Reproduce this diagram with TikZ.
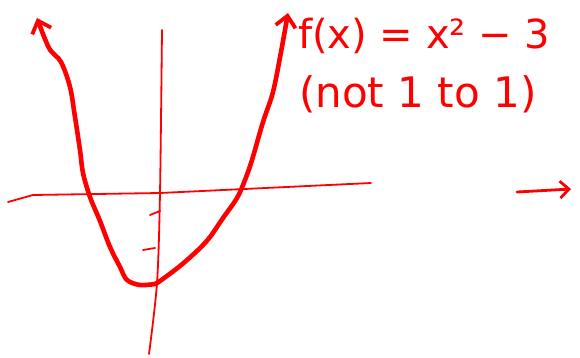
\documentclass[tikz,border=0pt]{standalone}
\usepackage{fontspec}
\setmainfont{DejaVu Sans}
\usetikzlibrary{arrows.meta}
\definecolor{ink}{RGB}{255,0,0}
\begin{document}
\begin{tikzpicture}[x=1pt,y=-1pt,
  axis/.style={draw=ink,line width=1.8pt,line cap=round,line join=round},
  curve/.style={draw=ink,line width=4.6pt,line cap=round,line join=round},
  head/.style={-{Straight Barb[length=11pt,width=20pt,line width=3.8pt]}},
  label/.style={text=ink,anchor=west,inner sep=0pt}]
\useasboundingbox (0,0) rectangle (580,358);
% axes
\coordinate (xl) at (8,202);
\coordinate (xr) at (371,183);
\coordinate (yt) at (162,30);
\coordinate (yb) at (149,354);
\draw[axis] (xl) -- (33,195) -- (160,193) -- (xr);
\draw[axis] plot[smooth,tension=0.5] coordinates {(yt) (160,193) (157,283) (yb)};
% ticks
\coordinate (t1a) at (150,215);
\coordinate (t1b) at (160,211);
\coordinate (t2a) at (143,250);
\coordinate (t2b) at (155,248);
\draw[axis] (t1a) -- (t1b);
\draw[axis] (t2a) -- (t2b);
% parabola
\coordinate (lt) at (37,18);
\coordinate (rt) at (288,13);
\draw[curve,head] plot[smooth,tension=0.55] coordinates {
  (155,284) (140,285) (127,280) (120,267) (110,247) (100,221) (90,197)
  (83,173) (80,150) (75,117) (70,87) (61,62) (49,48) (lt)};
\draw[curve,head] plot[smooth,tension=0.55] coordinates {
  (155,284) (160,281) (180,266) (198,250) (210,237) (223,218) (237,198)
  (245,180) (252,160) (263,122) (273,92) (281,52) (rt)};
% right arrow
\coordinate (as) at (517,192);
\coordinate (ae) at (571,189);
\draw[axis,line width=2.8pt,-{Straight Barb[length=9pt,width=17pt,line width=2.8pt]}] (as) -- (ae);
% text
\node[label,font=\fontsize{40}{44}\selectfont] (f) at (298,36) {f(x) = x² − 3};
\node[label,font=\fontsize{42}{46}\selectfont] (n) at (299,94) {(not 1 to 1)};
\end{tikzpicture}
\end{document}
